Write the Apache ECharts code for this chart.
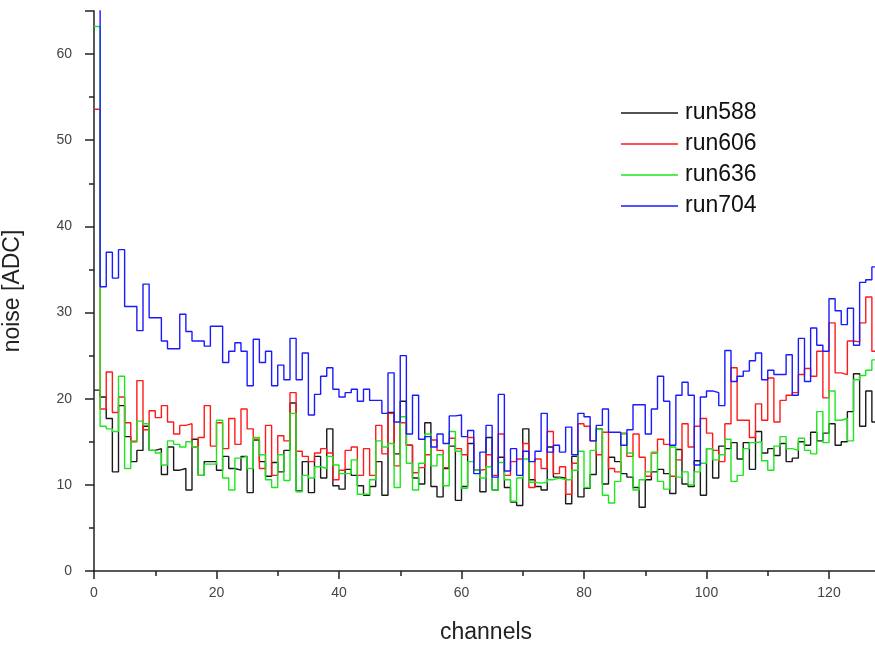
<!DOCTYPE html>
<html>
<head>
<meta charset="utf-8">
<script src="https://cdn.jsdelivr.net/npm/echarts@6/dist/echarts.min.js"></script>
<style>
  html, body { margin: 0; padding: 0; background: #fff; }
  #chart { width: 875px; height: 646px; }
</style>
</head>
<body>
<div id="chart"></div>
<script>
// noise per channel, one value per bin (channel i spans [i, i+1))
var run588 = [
  21, 20.2, 17.7, 11.5, 19.2, 15.6, 12.7, 14.0, 16.8, 14.0, 14.2, 11.2, 14.4, 11.7, 11.9, 9.4, 15.3, 11.1, 12.7, 12.7, 11.7,
  13.3, 11.9, 11.7, 13.3, 9.1, 15.2, 12.7, 11.0, 12.6, 11.5, 14.0, 19.5, 9.3, 12.7, 9.1, 13.3, 10.8, 16.5, 9.9, 9.5, 11.8,
  11.1, 9.9, 8.8, 9.8, 12.7, 8.8, 18.4, 13.6, 19.7, 14.6, 10.8, 10.1, 17.2, 9.8, 8.6, 11.9, 14.5, 8.2, 9.8, 14.8, 11.7, 9.2,
  15.5, 9.4, 13.2, 9.7, 8.0, 7.6, 16.5, 10.6, 9.8, 9.4, 14.4, 10.9, 10.8, 7.8, 13.3, 8.6, 9.6, 11.2, 16.5, 10.1, 13.2,
  12.7, 11.3, 10.9, 9.7, 7.4, 10.6, 11.5, 11.8, 11.3, 9.0, 14.1, 10.1, 9.8, 12.8, 8.8, 14.2, 10.8, 14.5, 14.2, 14.9, 13.0, 14.9,
  11.8, 16.2, 13.7, 14.2, 13.4, 14.8, 12.7, 13.1, 15.0, 14.6, 16.1, 15.1, 16.0, 17.1, 14.6, 15.0, 18.5, 22.9, 16.8, 20.9, 17.3
];
var run606 = [
  53.6, 18.8, 23.1, 18.4, 20.2, 17.2, 15.0, 22.1, 16.4, 18.6, 17.8, 19.2, 17.3, 15.9, 16.9, 17.1, 14.4, 15.5, 19.2, 14.5, 17.2,
  14.2, 17.7, 14.7, 18.8, 16.5, 15.3, 11.9, 16.9, 11.1, 15.7, 15.1, 20.7, 13.9, 13.3, 12.7, 13.7, 14.2, 13.7, 10.6, 11.7, 14.0,
  14.4, 11.1, 14.2, 11.1, 16.9, 13.6, 18.3, 12.2, 17.2, 14.6, 11.4, 12.0, 13.5, 15.2, 14.0, 12.0, 15.4, 14.2, 13.5, 15.5, 11.7, 11.8,
  13.5, 11.1, 15.9, 11.1, 12.7, 13.0, 14.8, 9.7, 13.0, 11.9, 16.2, 11.3, 12.1, 8.9, 12.5, 17.1, 16.8, 15.1, 13.5, 16.1, 11.9,
  11.5, 16.0, 13.3, 15.9, 13.2, 11.0, 13.7, 15.3, 14.7, 11.0, 12.9, 17.1, 14.4, 16.8, 17.7, 16.0, 14.0, 12.7, 17.1, 23.6, 17.5, 17.5,
  15.5, 19.4, 17.5, 22.4, 17.3, 19.8, 20.4, 20.7, 22.8, 23.5, 22.6, 25.5, 20.1, 28.8, 23.0, 22.8, 26.7, 26.6, 28.8, 31.8, 25.5
];
var run636 = [
  63.2, 16.8, 16.5, 16.2, 22.6, 11.9, 15.1, 17.4, 17.1, 14.0, 13.7, 12.3, 15.1, 14.7, 14.4, 15.0, 14.4, 11.1, 12.4, 12.4, 17.5,
  10.8, 9.4, 13.1, 13.3, 11.9, 15.5, 13.5, 10.6, 9.7, 13.5, 10.5, 18.3, 9.2, 11.1, 10.8, 12.1, 11.9, 13.3, 12.3, 11.3, 11.3,
  12.9, 8.9, 8.9, 10.6, 15.1, 14.4, 14.8, 9.7, 17.9, 12.5, 9.4, 12.5, 15.9, 12.2, 13.5, 9.9, 16.2, 13.9, 9.6, 12.7, 11.7, 10.8,
  12.1, 9.4, 12.6, 10.6, 8.1, 10.8, 13.0, 10.3, 10.2, 10.3, 10.6, 10.8, 10.6, 10.6, 11.7, 13.9, 9.7, 14.0, 16.5, 8.8, 7.9,
  10.4, 15.9, 13.7, 9.4, 10.6, 11.5, 13.8, 10.4, 9.5, 14.4, 10.9, 11.5, 10.0, 11.5, 12.5, 14.2, 12.9, 13.5, 15.3, 10.4, 11.1, 14.2,
  14.9, 15.0, 12.8, 11.7, 14.5, 15.6, 14.2, 14.0, 15.4, 14.0, 13.6, 18.5, 14.9, 20.9, 17.5, 17.7, 15.1, 22.2, 22.7, 23.3, 24.5
];
var run704 = [
  80, 33.0, 37.0, 34.0, 37.3, 30.7, 30.7, 27.9, 33.3, 29.4, 29.4, 26.7, 25.8, 25.8, 29.8, 27.8, 26.7, 26.7, 26.1, 28.4, 28.4,
  24.2, 25.5, 26.5, 25.5, 21.5, 26.9, 24.2, 25.5, 21.5, 23.9, 22.2, 27.0, 22.2, 25.3, 18.1, 20.5, 22.6, 23.6, 21.1, 20.2, 20.7,
  21.1, 19.7, 21.1, 19.8, 19.8, 18.3, 23.0, 17.3, 25.0, 15.9, 20.4, 15.3, 15.6, 14.4, 15.9, 14.8, 18.0, 18.1, 15.6, 16.3, 11.3, 13.8,
  16.9, 10.9, 20.5, 11.6, 14.2, 11.1, 13.9, 12.7, 13.9, 18.3, 13.8, 14.6, 13.8, 16.7, 13.5, 18.3, 17.9, 15.1, 16.9, 18.8, 16.1,
  16.1, 14.6, 16.4, 19.3, 19.3, 15.9, 18.8, 22.6, 19.7, 14.6, 20.4, 21.9, 20.4, 12.3, 20.2, 20.9, 20.7, 19.2, 25.6, 22.0, 22.6, 23.2,
  24.4, 25.3, 22.2, 23.3, 22.8, 22.8, 25.1, 20.4, 27.0, 22.0, 28.2, 26.2, 25.5, 31.6, 30.2, 28.6, 30.5, 26.2, 33.5, 33.8, 35.3
];
var runNames = ['run588', 'run606', 'run636', 'run704'];
var runColors = ['#1a1a1a', '#ff1a1a', '#1ee61e', '#1a1aff'];
var xTicks = [0, 20, 40, 60, 80, 100, 120];

// histogram bins -> step points, closing the last bin at its right edge
function toSteps(vals) {
  var pts = vals.map(function (v, i) { return [i, v]; });
  pts.push([vals.length, vals[vals.length - 1]]);
  return pts;
}

var chart = echarts.init(document.getElementById('chart'));
var font = 'Liberation Sans, Arial, sans-serif';

var series = [run588, run606, run636, run704].map(function (vals, k) {
  return {
    name: runNames[k],
    type: 'line',
    step: 'end',
    data: toSteps(vals),
    symbol: 'none',
    clip: true,
    lineStyle: { color: runColors[k], width: 1.4 },
    itemStyle: { color: runColors[k] },
    animation: false
  };
});

var option = {
  backgroundColor: '#fff',
  grid: { left: 94, right: -3, top: 11, bottom: 75, outerBoundsMode: 'none' },
  legend: {
    orient: 'vertical',
    left: 616,
    top: 96,
    icon: 'rect',
    itemWidth: 57,
    itemHeight: 1.6,
    itemGap: 7,
    textStyle: { fontFamily: font, fontSize: 23, color: '#111', lineHeight: 24, padding: [0, 0, 0, 2] },
    data: runNames
  },
  xAxis: {
    type: 'value',
    min: 0,
    max: 128,
    interval: 20,
    name: 'channels',
    nameLocation: 'middle',
    nameGap: 50,
    nameTextStyle: { fontFamily: font, fontSize: 23, color: '#222' },
    axisLine: { lineStyle: { color: '#222', width: 1.5 } },
    axisTick: { length: 8, lineStyle: { color: '#222', width: 1.5 } },
    minorTick: { show: true, splitNumber: 2, length: 5, lineStyle: { color: '#222', width: 1.5 } },
    axisLabel: {
      fontFamily: font, fontSize: 14, color: '#444', margin: 15,
      showMaxLabel: false,
      formatter: function (v) { return xTicks.indexOf(v) >= 0 ? String(v) : ''; }
    },
    splitLine: { show: false }
  },
  yAxis: {
    type: 'value',
    min: 0,
    max: 65,
    interval: 10,
    name: 'noise [ADC]',
    nameLocation: 'middle',
    nameGap: 70,
    nameTextStyle: { fontFamily: font, fontSize: 23, color: '#222' },
    axisLine: { show: true, lineStyle: { color: '#222', width: 1.5 } },
    axisTick: { show: true, length: 9, lineStyle: { color: '#222', width: 1.5 } },
    minorTick: { show: true, splitNumber: 2, length: 5, lineStyle: { color: '#222', width: 1.5 } },
    axisLabel: { fontFamily: font, fontSize: 14, color: '#444', margin: 22, showMaxLabel: false },
    splitLine: { show: false }
  },
  series: series
};

chart.setOption(option);
</script>
</body>
</html>
